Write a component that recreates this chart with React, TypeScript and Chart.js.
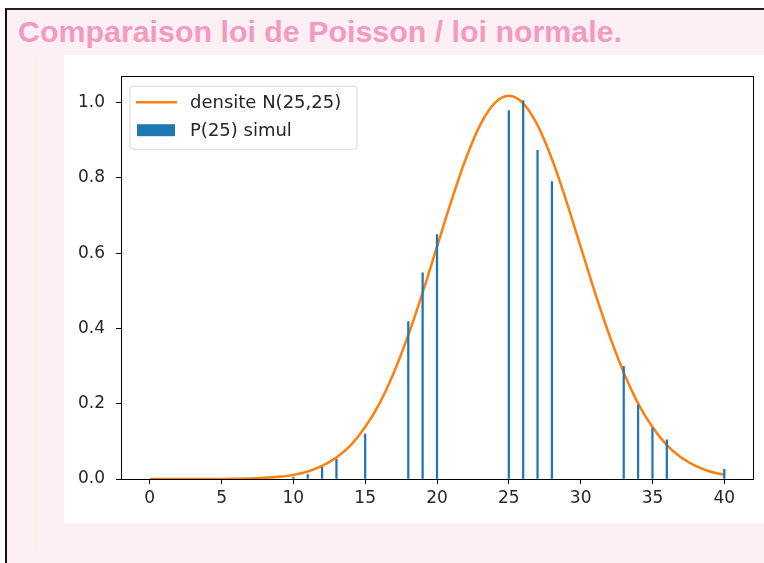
import React, { useEffect, useRef } from "react";
import { Chart, registerables } from "chart.js";

Chart.register(...registerables);

// ---- data ----
const titleText = "Comparaison loi de Poisson / loi normale.";
const lineLabel = "densite N(25,25)";
const barLabel = "P(25) simul";

const curveX = [
  0, 1, 2, 3, 4, 5, 6, 7, 8, 9, 10, 11, 12, 13, 14, 15, 16, 17, 18, 19, 20,
  21, 22, 23, 24, 25, 26, 27, 28, 29, 30, 31, 32, 33, 34, 35, 36, 37, 38, 39, 40,
];
const curveY = [
  0.0, 0.0, 0.0, 0.0001, 0.0002, 0.0003, 0.0007, 0.0015, 0.003, 0.006, 0.011,
  0.02, 0.035, 0.057, 0.09, 0.138, 0.201, 0.283, 0.382, 0.495, 0.617,
  0.739, 0.85, 0.94, 0.998, 1.018, 0.998, 0.94, 0.85, 0.739, 0.617,
  0.495, 0.382, 0.283, 0.201, 0.138, 0.09, 0.057, 0.035, 0.02, 0.011,
];

const barX = [10, 11, 12, 13, 15, 18, 19, 20, 25, 26, 27, 28, 33, 34, 35, 36, 40];
const barY = [
  0.005, 0.012, 0.031, 0.052, 0.119, 0.418, 0.548, 0.649, 0.979, 1.005, 0.873,
  0.79, 0.299, 0.197, 0.135, 0.104, 0.026,
];

const xTicks = [0, 5, 10, 15, 20, 25, 30, 35, 40];
const yTicks = [0, 0.2, 0.4, 0.6, 0.8, 1.0];

const ORANGE = "#ff7f0e";
const BLUE = "#1f77b4";
const FONT = "'DejaVu Sans', sans-serif";

const framePlugin = {
  id: "frame",
  afterDraw(chart: any) {
    const { ctx, chartArea: a } = chart;
    ctx.save();
    ctx.strokeStyle = "#000";
    ctx.lineWidth = 1;
    ctx.strokeRect(Math.round(a.left) + 0.5, Math.round(a.top) + 0.5, Math.round(a.right - a.left), Math.round(a.bottom - a.top));
    // legend (matplotlib style, inside upper left)
    const lx = a.left + 9;
    const ly = a.top + 10;
    const w = 227;
    const h = 63;
    const r = 3;
    ctx.beginPath();
    ctx.moveTo(lx + r, ly);
    ctx.lineTo(lx + w - r, ly);
    ctx.quadraticCurveTo(lx + w, ly, lx + w, ly + r);
    ctx.lineTo(lx + w, ly + h - r);
    ctx.quadraticCurveTo(lx + w, ly + h, lx + w - r, ly + h);
    ctx.lineTo(lx + r, ly + h);
    ctx.quadraticCurveTo(lx, ly + h, lx, ly + h - r);
    ctx.lineTo(lx, ly + r);
    ctx.quadraticCurveTo(lx, ly, lx + r, ly);
    ctx.closePath();
    ctx.fillStyle = "rgba(255,255,255,0.8)";
    ctx.fill();
    ctx.strokeStyle = "#d6d6d6";
    ctx.lineWidth = 1;
    ctx.stroke();

    const ds = chart.data.datasets;
    ctx.font = `18px ${FONT}`;
    ctx.fillStyle = "#262626";
    ctx.textBaseline = "middle";
    ctx.textAlign = "left";
    // line entry
    ctx.strokeStyle = ds[0].borderColor;
    ctx.lineWidth = 2.5;
    ctx.beginPath();
    ctx.moveTo(lx + 6, ly + 16);
    ctx.lineTo(lx + 47, ly + 16);
    ctx.stroke();
    ctx.fillText(ds[0].label, lx + 60, ly + 17);
    // bar entry
    ctx.fillStyle = ds[1].backgroundColor;
    ctx.fillRect(lx + 7, ly + 38, 38, 12);
    ctx.fillStyle = "#262626";
    ctx.fillText(ds[1].label, lx + 60, ly + 45);
    ctx.restore();
  },
};

function ChartBox() {
  const ref = useRef<HTMLCanvasElement>(null);
  useEffect(() => {
    if (!ref.current) return;
    const chart = new Chart(ref.current, {
      type: "bar",
      data: {
        datasets: [
          {
            type: "line",
            label: lineLabel,
            data: curveX.map((x, i) => ({ x, y: curveY[i] })),
            borderColor: ORANGE,
            backgroundColor: ORANGE,
            borderWidth: 2.5,
            pointRadius: 0,
            cubicInterpolationMode: "monotone",
            order: 1,
          } as any,
          {
            type: "bar",
            label: barLabel,
            data: barX.map((x, i) => ({ x, y: barY[i] })),
            backgroundColor: BLUE,
            borderWidth: 0,
            barThickness: 1.6,
            grouped: false,
            order: 0,
          } as any,
        ],
      },
      options: {
        animation: false,
        responsive: false,
        maintainAspectRatio: false,
        layout: { padding: { top: 12, right: 11, left: 0, bottom: 0 } },
        plugins: { legend: { display: false }, tooltip: { enabled: false } },
        scales: {
          x: {
            type: "linear",
            min: -2,
            max: 42,
            offset: false,
            grid: { display: true, offset: false, drawOnChartArea: false, drawTicks: true, tickLength: 5, color: "#000" },
            border: { display: true, color: "#000", width: 1 },
            ticks: { font: { family: FONT, size: 17 }, color: "#262626", padding: 4, maxRotation: 0, autoSkip: false },
            afterBuildTicks: (s: any) => { s.ticks = xTicks.map((v) => ({ value: v })); },
            afterFit: (s: any) => { s.height = 44; },
          },
          y: {
            type: "linear",
            min: 0,
            max: 1.07,
            grid: { display: true, drawOnChartArea: false, drawTicks: true, tickLength: 5, color: "#000" },
            border: { display: true, color: "#000", width: 1 },
            ticks: {
              font: { family: FONT, size: 17 },
              color: "#262626",
              padding: 11,
              callback: (v: any) => Number(v).toFixed(1),
            },
            afterBuildTicks: (s: any) => { s.ticks = yTicks.map((v) => ({ value: v })); },
            afterFit: (s: any) => { s.width = 57; },
          },
        },
      },
      plugins: [framePlugin],
    } as any);
    return () => chart.destroy();
  }, []);
  return <canvas ref={ref} width={700} height={468} style={{ display: "block", width: 700, height: 468 }} />;
}

export default function App() {
  const titleRef = useRef<HTMLSpanElement>(null);
  useEffect(() => {
    const el = titleRef.current;
    if (!el) return;
    const w = el.getBoundingClientRect().width;
    if (w > 0) el.style.transform = `scaleX(${604 / w})`;
  }, []);
  return (
    <div style={{ position: "fixed", left: 0, top: 0, width: 764, height: 563, background: "#ffffff", overflow: "hidden" }}>
      <div
        style={{
          position: "absolute",
          left: 5,
          top: 8,
          width: 780,
          height: 600,
          background: "#fdf0f5",
          borderLeft: "2px solid #111",
          borderTop: "2px solid #222",
        }}
      />
      <div style={{ position: "absolute", left: 34, top: 56, width: 4, height: 500, background: "#fcefef" }} />
      <span
        ref={titleRef}
        style={{
          position: "absolute",
          left: 18,
          top: 17,
          fontFamily: "'Liberation Sans', Arial, sans-serif",
          fontWeight: "bold",
          fontSize: 30,
          lineHeight: "30px",
          color: "#f49ac1",
          whiteSpace: "nowrap",
          transformOrigin: "left top",
          display: "inline-block",
        }}
      >
        {titleText}
      </span>
      <div style={{ position: "absolute", left: 64, top: 55, width: 700, height: 468, background: "#fff" }}>
        <ChartBox />
      </div>
    </div>
  );
}
